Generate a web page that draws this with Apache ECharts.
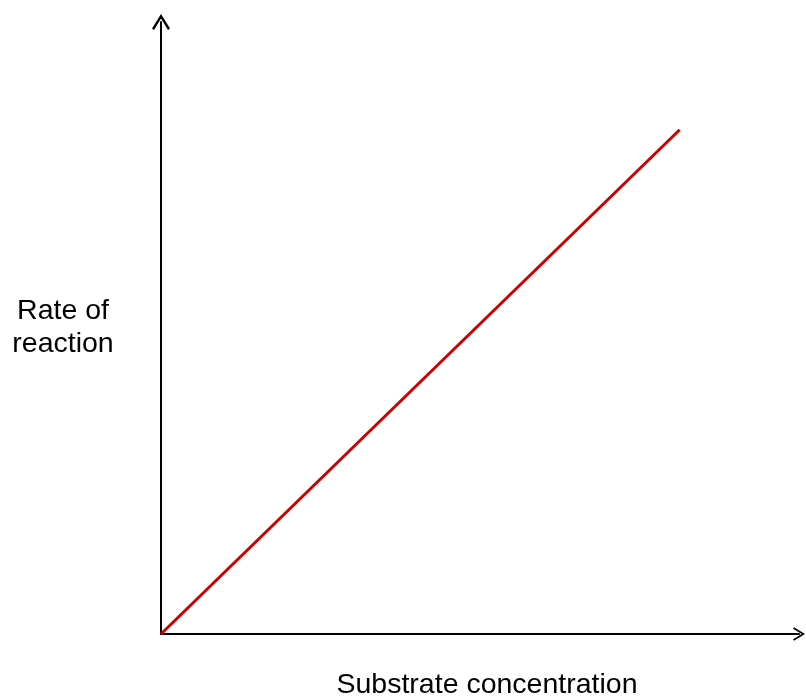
<!DOCTYPE html>
<html>
<head>
<meta charset="utf-8">
<script src="https://cdn.jsdelivr.net/npm/echarts@6/dist/echarts.min.js"></script>
<style>html,body{margin:0;padding:0;background:#fff;}#c{width:806px;height:699px;}</style>
</head>
<body>
<div id="c"></div>
<script>
const xName = 'Substrate concentration';
const yName = 'Rate of\nreaction';
const substrate = [0, 81.3];
const rate = [0, 82.4];

const chevron = 'path://M9,0 L18,14.6 L16,16 L9,4.4 L2,16 L0,14.6 Z';
const chart = echarts.init(document.getElementById('c'));
chart.setOption({
  animation: false,
  backgroundColor: '#fff',
  grid: {left: 161, right: 7, top: 22, bottom: 65, containLabel: false, outerBoundsMode: 'none'},
  xAxis: {
    type: 'value', min: 0, max: 100,
    name: xName, nameLocation: 'middle', nameGap: 37,
    nameTextStyle: {fontFamily: 'Liberation Sans, Arial', fontSize: 28.5, color: '#000', padding: [0, 0, 0, 14]},
    axisLine: {lineStyle: {color: '#000', width: 2}, symbol: ['none', chevron], symbolSize: [18, 12]},
    axisTick: {show: false}, axisLabel: {show: false}, splitLine: {show: false}
  },
  yAxis: {
    type: 'value', min: 0, max: 100,
    name: yName, nameLocation: 'middle', nameGap: 98, nameRotate: 0,
    nameTextStyle: {fontFamily: 'Liberation Sans, Arial', fontSize: 28.5, color: '#000', align: 'center', lineHeight: 33},
    axisLine: {lineStyle: {color: '#000', width: 2}, symbol: ['none', chevron], symbolSize: [18, 16]},
    axisTick: {show: false}, axisLabel: {show: false}, splitLine: {show: false}
  },
  series: [{
    type: 'line',
    data: substrate.map((x, i) => [x, rate[i]]),
    showSymbol: false,
    lineStyle: {color: '#cc0000', width: 3}
  }]
});
</script>
</body>
</html>
